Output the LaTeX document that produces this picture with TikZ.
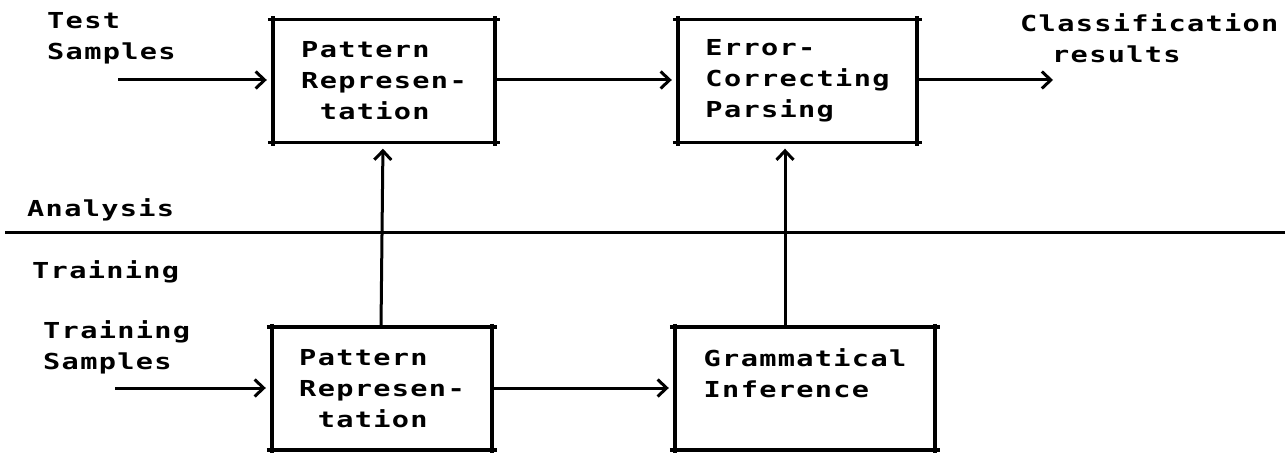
\documentclass[tikz,border=0pt]{standalone}
\usepackage{fontspec}
\usetikzlibrary{arrows.meta}
\newfontfamily\dm[FakeStretch=1.3,LetterSpace=6]{DejaVu Sans Mono Bold}
\begin{document}
\begin{tikzpicture}[x=1pt,y=-1pt,
  txt/.style={font=\dm\fontsize{22}{31}\selectfont, inner sep=0pt, align=left},
  blk/.style={txt, minimum width=#1, minimum height=123pt},
  boxline/.style={line width=3.5pt},
  flow/.style={line width=3pt, -{Straight Barb[length=9pt,width=17pt,line width=3pt]}, shorten >=6pt}
]
\useasboundingbox (0,0) rectangle (1287,454);
% boxes
\node[blk=222pt] (b1) at (384,81) {Pattern\\Represen-\\~tation};
\node[blk=239pt] (b2) at (797.5,81) {Error-\\Correcting\\Parsing};
\node[blk=220pt] (b3) at (382,388.5) {Pattern\\Represen-\\~tation};
\node[blk=260pt] (b4) at (805,388.5) {Grammatical\\Inference\\~};
\foreach \n in {b1,b2,b3,b4}{
  \draw[boxline] ([xshift=-5pt]\n.north west) -- ([xshift=5pt]\n.north east);
  \draw[boxline] ([xshift=-5pt]\n.south west) -- ([xshift=5pt]\n.south east);
  \draw[boxline] ([yshift=3pt]\n.north west) -- ([yshift=-3pt]\n.south west);
  \draw[boxline] ([yshift=3pt]\n.north east) -- ([yshift=-3pt]\n.south east);
}
% labels
\node[txt, anchor=north west] (ts) at (47,12) {Test\\Samples};
\node[txt, anchor=north west] (cr) at (1020,13) {Classification\\\hspace*{32pt}results};
\node[txt, anchor=north west] (an) at (27,198) {Analysis};
\node[txt, anchor=north west] (tr) at (32,260) {Training};
\node[txt, anchor=north west] (trs) at (43,320) {Training\\Samples};
% separator
\coordinate (sepL) at (5,233);
\coordinate (sepR) at (1285,233);
\draw[line width=3pt] (sepL) -- (sepR);
% free ends
\coordinate (inT) at (118,80);
\coordinate (inR) at (115,388);
\coordinate (outC) at (1059,80);
% connectors
\draw[flow] (inT) -- (inT -| b1.west);
\draw[flow] (b1.east |- inT) -- (b2.west |- inT);
\draw[flow] (b2.east |- inT) -- (outC);
\draw[flow] (inR) -- (inR -| b3.west);
\draw[flow] (b3.east |- inR) -- (b4.west |- inR);
\draw[flow] ([xshift=-1pt]b3.north) -- ([xshift=-1pt]b1.south);
\draw[flow] ([xshift=-20pt]b4.north) -- ([xshift=-20pt]b4.north |- b2.south);
\end{tikzpicture}
\end{document}
